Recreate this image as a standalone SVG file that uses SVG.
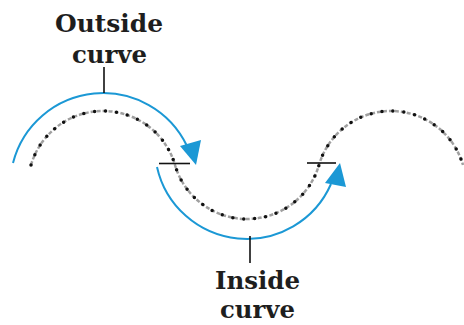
<svg xmlns="http://www.w3.org/2000/svg" width="464" height="325" viewBox="0 0 464 325">
<style>
.lbl{font-family:"DejaVu Serif","Liberation Serif",serif;font-weight:bold;font-size:24px;fill:#1e1e1e;text-anchor:middle}
.track{fill:none;stroke:#a0a0a0;stroke-width:2.5;stroke-dasharray:4 2}
.dots{fill:none;stroke:#111;stroke-width:3.5;stroke-linecap:round;stroke-dasharray:0 11}
.blue{fill:none;stroke:#1b98d5;stroke-width:2}
.head{fill:#1b98d5}
.ln{stroke:#111;stroke-width:1.6;fill:none}
</style>
<rect width="464" height="325" fill="#fff"/>
<g id="track">
<path class="track" d="M31,165 A75,75 0 0 1 175,165 A75,75 0 0 0 319,165 A75,75 0 0 1 463,165"/>
<path class="dots" d="M31,165 A75,75 0 0 1 175,165 A75,75 0 0 0 319,165 A75,75 0 0 1 463,165"/>
<line class="ln" x1="159" y1="163.5" x2="190" y2="163.5"/>
<line class="ln" x1="307" y1="163" x2="336" y2="163"/>
</g>
<g id="outside-curve">
<path class="blue" d="M13,163 A93,93 0 0 1 187,146"/>
<polygon class="head" points="180,146 201,140 196,165"/>
<line class="ln" x1="104" y1="67" x2="104" y2="93"/>
<text class="lbl" x="109" y="32" textLength="108" lengthAdjust="spacingAndGlyphs">Outside</text>
<text class="lbl" x="109.5" y="63" textLength="75" lengthAdjust="spacingAndGlyphs">curve</text>
</g>
<g id="inside-curve">
<path class="blue" d="M157,167 A92,92 0 0 0 331,184"/>
<polygon class="head" points="325,183 346,187 340,163"/>
<line class="ln" x1="250" y1="236" x2="250" y2="263"/>
<text class="lbl" x="257.5" y="289" textLength="85" lengthAdjust="spacingAndGlyphs">Inside</text>
<text class="lbl" x="257.5" y="318" textLength="75" lengthAdjust="spacingAndGlyphs">curve</text>
</g>
</svg>
